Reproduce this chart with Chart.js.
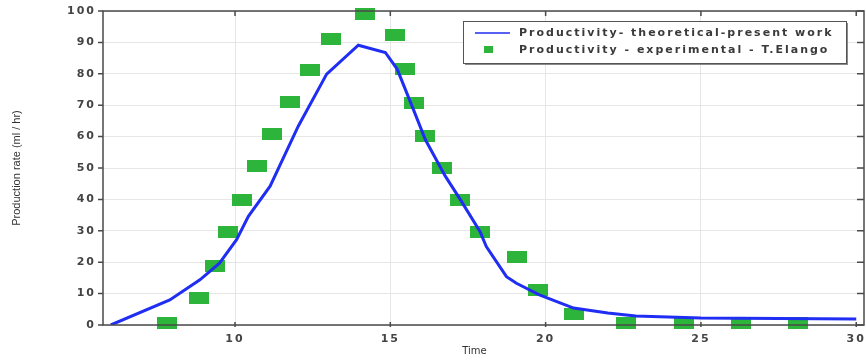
<!DOCTYPE html>
<html>
<head>
<meta charset="utf-8">
<script src="https://cdn.jsdelivr.net/npm/chart.js@4.4.0/dist/chart.umd.min.js"></script>
<style>
  body { margin: 0; background: #fff; }
</style>
</head>
<body>
<canvas id="prodChart" width="866" height="360"></canvas>
<script>
// theoretical curve - present work
const theoryTime = [6, 7.9, 8.87, 9.5, 10.05, 10.43, 11.13, 12.04, 12.95, 13.97, 14.84, 15.22, 15.7, 16.13, 16.77, 17.25, 17.89, 18.09, 18.74, 19.06, 19.8, 20.9, 22, 22.9, 25, 30];
const theoryRate = [0, 8, 14.4, 19.7, 27.2, 34.6, 44.2, 63.4, 79.9, 89.1, 86.8, 81.5, 69.7, 59, 47.4, 40, 29.7, 25, 15.4, 13.3, 9.6, 5.4, 3.8, 2.9, 2.2, 1.9];

// experimental points - T.Elango
const expTime = [7.8, 8.83, 9.34, 9.79, 10.22, 10.72, 11.19, 11.78, 12.42, 13.1, 14.19, 15.16, 15.46, 15.75, 16.12, 16.66, 17.25, 17.89, 19.07, 19.74, 20.9, 22.59, 24.47, 26.29, 28.14];
const expRate = [0.5, 8.5, 18.8, 29.5, 39.9, 50.6, 60.9, 71.1, 81.2, 91.2, 99, 92.3, 81.6, 70.8, 60.2, 50, 39.8, 29.5, 21.5, 11, 3.5, 0.5, 0.5, 0.5, 0.5];

const xTicks = [10, 15, 20, 25, 30];
const yTicks = [0, 10, 20, 30, 40, 50, 60, 70, 80, 90, 100];

const labels = ['Productivity- theoretical-present work', 'Productivity - experimental - T.Elango'];

const lineBlue = '#1f2ef2';
const boxGreen = '#2db53b';

// green rectangle used as the marker
const greenBox = document.createElement('canvas');
greenBox.width = 20;
greenBox.height = 12;
const gctx = greenBox.getContext('2d');
gctx.fillStyle = boxGreen;
gctx.fillRect(0, 0, 20, 12);

const tickFont = { family: 'DejaVu Sans', size: 11, weight: 'bold' };

// wide spacing for the tick numbers
const spacingPlugin = {
  id: 'spacing',
  beforeLayout(chart) { chart.ctx.letterSpacing = '2px'; },
  beforeDraw(chart) { chart.ctx.letterSpacing = '2px'; }
};

const framePlugin = {
  id: 'frame',
  afterDraw(chart) {
    const ctx = chart.ctx;
    const { left, top, right, bottom } = chart.chartArea;
    const xs = chart.scales.x, ys = chart.scales.y;
    ctx.save();
    ctx.letterSpacing = '0px';
    ctx.strokeStyle = '#4a4a4a';
    ctx.lineWidth = 1.5;
    ctx.strokeRect(left, top, right - left, bottom - top);
    ctx.beginPath();
    yTicks.forEach(v => {
      const y = ys.getPixelForValue(v);
      ctx.moveTo(left - 5, y); ctx.lineTo(left, y);
      ctx.moveTo(right - 7, y); ctx.lineTo(right, y);
    });
    xTicks.forEach(v => {
      const x = xs.getPixelForValue(v);
      ctx.moveTo(x, top); ctx.lineTo(x, top + 5);
      ctx.moveTo(x, bottom - 3); ctx.lineTo(x, bottom + 2);
    });
    ctx.stroke();

    // axis titles
    ctx.fillStyle = '#333';
    ctx.font = '10px "DejaVu Sans"';
    ctx.textAlign = 'center';
    ctx.textBaseline = 'middle';
    ctx.fillText('Time', (left + right) / 2 - 9, 351);
    ctx.save();
    ctx.translate(17, (top + bottom) / 2);
    ctx.rotate(-Math.PI / 2);
    ctx.font = '11px "Liberation Sans"';
    ctx.fillText('Production rate (ml / hr)', 0, 0);
    ctx.restore();

    // legend box
    const bx = 463, by = 21, bw = 383, bh = 42;
    ctx.fillStyle = '#8a8a8a';
    ctx.fillRect(bx + 2, by + 2, bw, bh);
    ctx.fillStyle = '#fff';
    ctx.fillRect(bx, by, bw, bh);
    ctx.strokeStyle = '#555';
    ctx.lineWidth = 1;
    ctx.strokeRect(bx + 0.5, by + 0.5, bw, bh);
    ctx.strokeStyle = lineBlue;
    ctx.lineWidth = 1.5;
    ctx.beginPath();
    ctx.moveTo(475, 33); ctx.lineTo(510, 33);
    ctx.stroke();
    ctx.fillStyle = boxGreen;
    ctx.fillRect(484, 46, 9, 7);
    ctx.fillStyle = '#3a3a3a';
    ctx.font = 'bold 11px "DejaVu Sans"';
    ctx.letterSpacing = '2px';
    ctx.textAlign = 'left';
    ctx.fillText(labels[0], 519, 33);
    ctx.fillText(labels[1], 519, 50);
    ctx.restore();
  }
};

const ctx = document.getElementById('prodChart').getContext('2d');
new Chart(ctx, {
  type: 'scatter',
  data: {
    datasets: [
      {
        type: 'line',
        label: labels[0],
        data: theoryTime.map((t, i) => ({ x: t, y: theoryRate[i] })),
        borderColor: lineBlue,
        borderWidth: 3,
        pointRadius: 0,
        tension: 0,
        fill: false,
        order: 1
      },
      {
        label: labels[1],
        data: expTime.map((t, i) => ({ x: t, y: expRate[i] })),
        pointStyle: greenBox,
        pointRadius: 10,
        backgroundColor: boxGreen,
        clip: false,
        order: 2
      }
    ]
  },
  options: {
    responsive: false,
    animation: false,
    devicePixelRatio: 1,
    layout: { autoPadding: false, padding: { top: 11, right: 2, left: 0, bottom: 0 } },
    plugins: {
      legend: { display: false },
      tooltip: { enabled: false }
    },
    scales: {
      x: {
        type: 'linear',
        min: 5.75,
        max: 30.25,
        afterBuildTicks: s => { s.ticks = xTicks.map(v => ({ value: v })); },
        afterFit: s => { s.height = 35; s.paddingLeft = 0; s.paddingRight = 0; },
        ticks: { font: tickFont, color: '#444', padding: 8, maxRotation: 0, autoSkip: false },
        grid: {
          drawTicks: false,
          color: c => (c.tick && c.tick.value === 30) ? 'rgba(0,0,0,0)' : '#e6e6e6'
        },
        border: { display: false }
      },
      y: {
        min: 0,
        max: 100,
        afterBuildTicks: s => { s.ticks = yTicks.map(v => ({ value: v })); },
        afterFit: s => { s.width = 103; s.paddingTop = 0; s.paddingBottom = 0; },
        ticks: { font: tickFont, color: '#444', padding: 7 },
        grid: { drawTicks: false, color: '#e6e6e6' },
        border: { display: false }
      }
    }
  },
  plugins: [spacingPlugin, framePlugin]
});
</script>
</body>
</html>
